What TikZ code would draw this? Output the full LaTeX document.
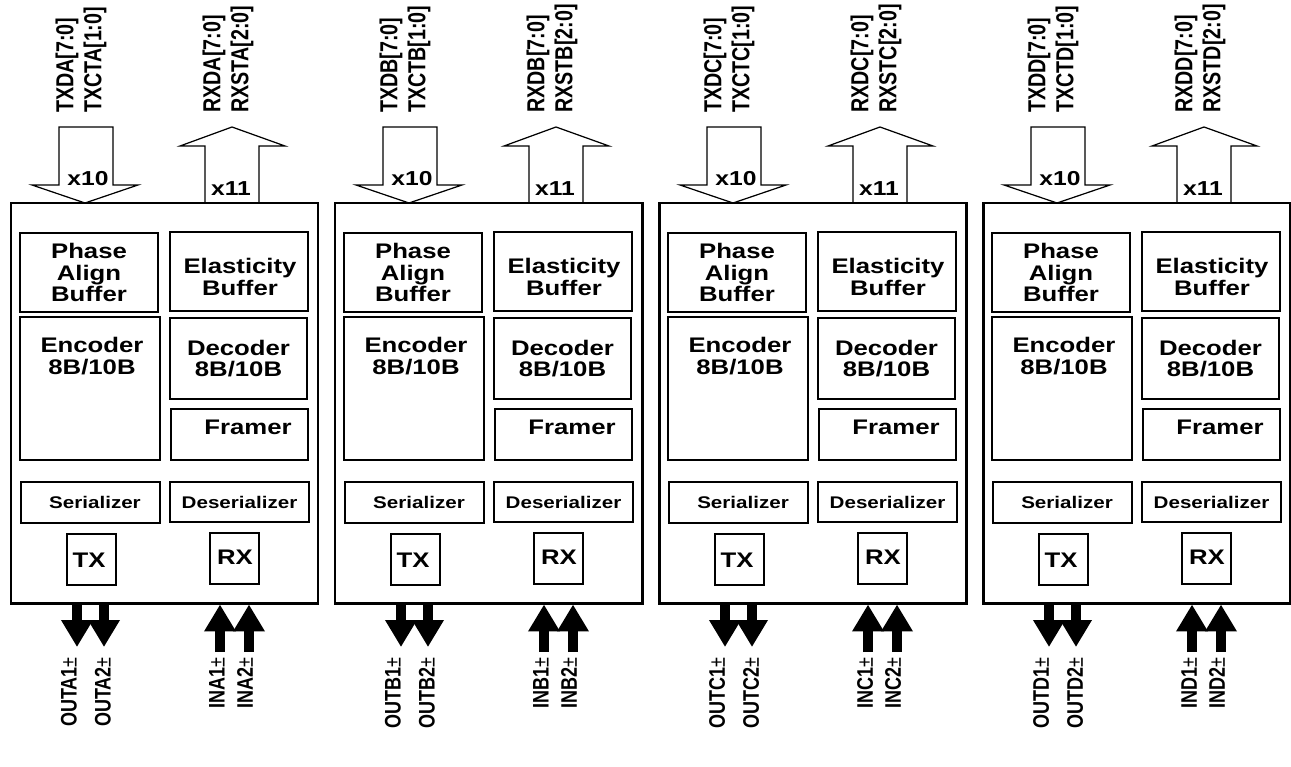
\documentclass[tikz,border=0pt]{standalone}
\usepackage{fontspec}
\setmainfont{Liberation Sans}
\newfontfamily\widefont[FakeStretch=1.22]{Liberation Sans}
\newfontfamily\sidefont[FakeStretch=0.8]{Liberation Sans}
\usetikzlibrary{arrows.meta,fit}
\tikzset{chanbox/.style = {draw, line width=1.7pt, inner sep=0pt},
	partbox/.style = {draw, line width=1.1pt, inner sep=0pt},
	parttext/.style = {inner sep=0pt, text depth=0pt, align=center, font=\widefont\bfseries\fontsize{12}{12.3}\selectfont},
	smalltext/.style = {parttext, font=\widefont\bfseries\fontsize{9.6}{11}\selectfont},
	busarrow/.style = {draw, line width=0.7pt, line join=miter},
	bustext/.style = {inner sep=0pt, font=\widefont\bfseries\fontsize{11.5}{12}\selectfont},
	pin/.style = {-{Triangle[length=0.54cm, width=0.6cm]}, line width=0.2cm},
	buslabel/.style = {rotate=90, anchor=west, align=left, inner sep=0pt, font=\sidefont\bfseries\fontsize{14}{15.9}\selectfont},
	pinlabel/.style = {rotate=90, anchor=east, inner sep=0pt, font=\sidefont\bfseries\fontsize{12.8}{13}\selectfont}}

\begin{document}
\begin{tikzpicture}[x=0.02cm, y=-0.02cm]

 \useasboundingbox (0,0) rectangle (1291,767);

 \foreach \ch [count=\i from 0] in {A,B,C,D}{
 \pgfmathsetmacro\bx{11+324*\i}

 % one channel
 \node (chan\ch) [chanbox, fit={(\bx,203) (\bx+307,603)}] {};

 \node (pab\ch) [partbox, fit={(\bx+9,233) (\bx+147,312)}] {};
 \node (pabtext\ch) [parttext] at (pab\ch.center) {Phase\\Align\\Buffer};
 \node (eb\ch) [partbox, fit={(\bx+159,232) (\bx+297,311)}] {};
 \node (ebtext\ch) [parttext] at (\bx+229,277) {Elasticity\\Buffer};

 \node (enc\ch) [partbox, fit={(\bx+9,317) (\bx+149,460)}] {};
 \node (enctext\ch) [parttext, anchor=north] at (\bx+81,337) {Encoder\\8B/10B};
 \node (dec\ch) [partbox, fit={(\bx+159,318) (\bx+296,399)}] {};
 \node (dectext\ch) [parttext] at (dec\ch.center) {Decoder\\8B/10B};
 \node (frm\ch) [partbox, fit={(\bx+160,409) (\bx+297,460)}] {};
 \node (frmtext\ch) [parttext] at (\bx+237,427) {Framer};

 \node (ser\ch) [partbox, fit={(\bx+10,482) (\bx+149,523)}] {};
 \node (sertext\ch) [smalltext] at (\bx+84,502) {Serializer};
 \node (des\ch) [partbox, fit={(\bx+159,482) (\bx+298,522)}] {};
 \node (destext\ch) [smalltext] at (des\ch.center) {Deserializer};

 \node (tx\ch) [partbox, fit={(\bx+56,534) (\bx+105,585)}] {};
 \node (txtext\ch) [parttext] at (\bx+78,560) {TX};
 \node (rx\ch) [partbox, fit={(\bx+199,533) (\bx+248,584)}] {};
 \node (rxtext\ch) [parttext] at (\bx+224,557) {RX};

 % parallel buses
 \draw[busarrow] (\bx+48,127) -- (\bx+102,127) -- (\bx+102,185) -- (\bx+127,185)
  -- (\bx+74,203) -- (\bx+21,185) -- (\bx+48,185) -- cycle;
 \node (txbus\ch) [bustext] at (\bx+77,179) {x10};
 \draw[busarrow] (\bx+194,203) -- (\bx+194,146) -- (\bx+169,146) -- (\bx+221,127)
  -- (\bx+274,146) -- (\bx+248,146) -- (\bx+248,203);
 \node (rxbus\ch) [bustext] at (\bx+220,189) {x11};

 \node (txsig\ch) [buslabel] at (\bx+70,113) {TXD\ch[7:0]\\TXCT\ch[1:0]};
 \node (rxsig\ch) [buslabel] at (\bx+217,113) {RXD\ch[7:0]\\RXST\ch[2:0]};

 % serial pins
 \coordinate (out1\ch) at (\bx+66,647);
 \coordinate (out2\ch) at (\bx+93,647);
 \coordinate (in1\ch) at (\bx+209,652);
 \coordinate (in2\ch) at (\bx+238,652);
 \draw[pin] (chan\ch.south -| out1\ch) -- (out1\ch);
 \draw[pin] (chan\ch.south -| out2\ch) -- (out2\ch);
 \draw[pin] (in1\ch) -- (chan\ch.south -| in1\ch);
 \draw[pin] (in2\ch) -- (chan\ch.south -| in2\ch);

 \node (out1lab\ch) [pinlabel] at (\bx+58,657) {OUT\ch1{\mdseries ±}};
 \node (out2lab\ch) [pinlabel] at (\bx+92,657) {OUT\ch2{\mdseries ±}};
 \node (in1lab\ch) [pinlabel] at (\bx+206,657) {IN\ch1{\mdseries ±}};
 \node (in2lab\ch) [pinlabel] at (\bx+234,657) {IN\ch2{\mdseries ±}};
 }

\end{tikzpicture}
\end{document}
